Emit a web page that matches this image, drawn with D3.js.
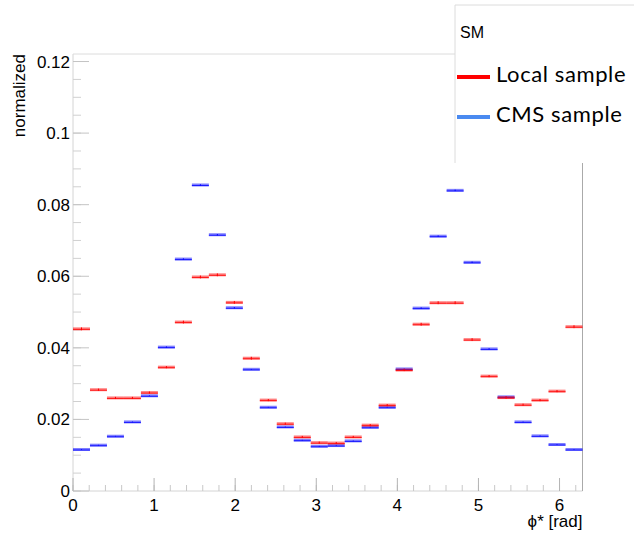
<!DOCTYPE html>
<html>
<head>
<meta charset="utf-8">
<script src="https://d3js.org/d3.v7.min.js"></script>
<style>
  body { margin: 0; background: white; }
</style>
</head>
<body>
<script>

// 30 bins between 0 and 2pi
var nBins = 30;
var phiMax = 2 * Math.PI;

// Local sample (red), one value per bin
var localValues = [0.0453, 0.0283, 0.0260, 0.0260, 0.0275, 0.0346, 0.0472, 0.0598, 0.0604, 0.0527,
                   0.0371, 0.0254, 0.0188, 0.0151, 0.0135, 0.0134, 0.0151, 0.0184, 0.0240, 0.0338,
                   0.0466, 0.0526, 0.0526, 0.0423, 0.0321, 0.0261, 0.0241, 0.0254, 0.0279, 0.0459];
var localErrors = [0.0004, 0.0003, 0.0003, 0.0003, 0.0003, 0.0003, 0.0004, 0.0004, 0.0004, 0.0004,
                   0.0004, 0.0003, 0.0003, 0.0003, 0.0003, 0.0003, 0.0003, 0.0003, 0.0003, 0.0003,
                   0.0004, 0.0004, 0.0004, 0.0004, 0.0003, 0.0003, 0.0003, 0.0003, 0.0003, 0.0004];

// CMS sample (blue)
var cmsValues = [0.0116, 0.0128, 0.0153, 0.0193, 0.0266, 0.0402, 0.0648, 0.0855, 0.0716, 0.0512,
                 0.0340, 0.0234, 0.0179, 0.0142, 0.0125, 0.0127, 0.0140, 0.0178, 0.0234, 0.0341,
                 0.0511, 0.0712, 0.0840, 0.0639, 0.0397, 0.0263, 0.0193, 0.0154, 0.0130, 0.0116];
var cmsErrors = [0.0001, 0.0001, 0.0001, 0.0001, 0.0001, 0.0002, 0.0002, 0.0002, 0.0002, 0.0002,
                 0.0001, 0.0001, 0.0001, 0.0001, 0.0001, 0.0001, 0.0001, 0.0001, 0.0001, 0.0001,
                 0.0002, 0.0002, 0.0002, 0.0002, 0.0002, 0.0001, 0.0001, 0.0001, 0.0001, 0.0001];

var yMajorTicks = [0, 0.02, 0.04, 0.06, 0.08, 0.1, 0.12];
var yTickLabels = ["0", "0.02", "0.04", "0.06", "0.08", "0.1", "0.12"];
var xMajorTicks = [0, 1, 2, 3, 4, 5, 6];

var legendTitle = "SM";
var legendNames = ["Local sample", "CMS sample"];

var width = 634;
var height = 533;

var plotLeft = 73, plotRight = 582.5, plotTop = 54, plotBottom = 491;

var x = d3.scaleLinear().domain([0, phiMax]).range([plotLeft, plotRight]);
var y = d3.scaleLinear().domain([0, 0.1221]).range([plotBottom, plotTop]);

var svg = d3.select("body").append("svg")
    .attr("width", width)
    .attr("height", height);

svg.append("rect")
    .attr("width", "100%")
    .attr("height", "100%")
    .attr("fill", "white");

// frame
svg.append("line").attr("x1", plotLeft).attr("y1", plotTop).attr("x2", plotLeft).attr("y2", plotBottom)
    .attr("stroke", "#d4d4d4").attr("stroke-width", 1);
svg.append("line").attr("x1", plotLeft).attr("y1", plotBottom).attr("x2", plotRight).attr("y2", plotBottom)
    .attr("stroke", "#d4d4d4").attr("stroke-width", 1);
svg.append("line").attr("x1", plotLeft).attr("y1", plotTop).attr("x2", plotRight).attr("y2", plotTop)
    .attr("stroke", "#dcdcdc").attr("stroke-width", 1);
svg.append("line").attr("x1", plotRight).attr("y1", plotTop).attr("x2", plotRight).attr("y2", plotBottom)
    .attr("stroke", "#aaaaaa").attr("stroke-width", 1);

// y ticks: minor every 0.005, major every 0.02
var yMinor = d3.range(0, 0.1221, 0.005);
svg.selectAll(".yminor").data(yMinor).enter().append("line")
    .attr("x1", plotLeft).attr("x2", plotLeft + 8)
    .attr("y1", function(d) { return y(d); })
    .attr("y2", function(d) { return y(d); })
    .attr("stroke", "#d0d0d0");
svg.selectAll(".ymajor").data(yMajorTicks).enter().append("line")
    .attr("x1", plotLeft).attr("x2", plotLeft + 16)
    .attr("y1", function(d) { return y(d); })
    .attr("y2", function(d) { return y(d); })
    .attr("stroke", "#c4c4c4");
svg.selectAll(".ylabel").data(yMajorTicks).enter().append("text")
    .attr("x", plotLeft - 3)
    .attr("y", function(d) { return y(d) + 6; })
    .attr("text-anchor", "end")
    .attr("font-family", "Liberation Sans, Arial, sans-serif")
    .attr("font-size", "17px")
    .attr("fill", "black")
    .text(function(d, i) { return yTickLabels[i]; });

// x ticks: minor every 0.2, major every 1
var xMinor = d3.range(0, phiMax, 0.2);
svg.selectAll(".xminor").data(xMinor).enter().append("line")
    .attr("x1", function(d) { return x(d); })
    .attr("x2", function(d) { return x(d); })
    .attr("y1", plotBottom).attr("y2", plotBottom - 6)
    .attr("stroke", "#c8c8c8");
svg.selectAll(".xmajor").data(xMajorTicks).enter().append("line")
    .attr("x1", function(d) { return x(d); })
    .attr("x2", function(d) { return x(d); })
    .attr("y1", plotBottom).attr("y2", plotBottom - 13)
    .attr("stroke", "#b4b4b4");
svg.selectAll(".xlabel").data(xMajorTicks).enter().append("text")
    .attr("x", function(d) { return x(d); })
    .attr("y", plotBottom + 20)
    .attr("text-anchor", "middle")
    .attr("font-family", "Liberation Sans, Arial, sans-serif")
    .attr("font-size", "17px")
    .attr("fill", "black")
    .text(function(d) { return d; });

// axis titles
svg.append("text")
    .attr("x", plotRight)
    .attr("y", 527)
    .attr("text-anchor", "end")
    .attr("font-family", "Liberation Sans, Arial, sans-serif")
    .attr("font-size", "17px")
    .attr("fill", "black")
    .text("\u03d5* [rad]");

svg.append("text")
    .attr("transform", "translate(25," + plotTop + ") rotate(-90)")
    .attr("text-anchor", "end")
    .attr("font-family", "Liberation Sans, Arial, sans-serif")
    .attr("font-size", "17px")
    .attr("fill", "black")
    .text("normalized");

// histograms
var binW = phiMax / nBins;

function drawHist(values, errors, color, cls) {
    var g = svg.append("g").attr("class", cls);
    // soft band
    g.selectAll(".band").data(values).enter().append("line")
        .attr("x1", function(d, i) { return x(i * binW); })
        .attr("x2", function(d, i) { return x((i + 1) * binW); })
        .attr("y1", function(d) { return y(d); })
        .attr("y2", function(d) { return y(d); })
        .attr("stroke", color)
        .attr("stroke-opacity", 0.5)
        .attr("stroke-width", 3);
    // core line
    g.selectAll(".core").data(values).enter().append("line")
        .attr("x1", function(d, i) { return x(i * binW); })
        .attr("x2", function(d, i) { return x((i + 1) * binW); })
        .attr("y1", function(d) { return y(d) + 0.5; })
        .attr("y2", function(d) { return y(d) + 0.5; })
        .attr("stroke", color)
        .attr("stroke-opacity", 0.8)
        .attr("stroke-width", 1);
    // error bars
    g.selectAll(".err").data(values).enter().append("line")
        .attr("x1", function(d, i) { return x((i + 0.5) * binW); })
        .attr("x2", function(d, i) { return x((i + 0.5) * binW); })
        .attr("y1", function(d, i) { return y(d - errors[i]); })
        .attr("y2", function(d, i) { return y(d + errors[i]); })
        .attr("stroke", color)
        .attr("stroke-width", 1);
}

drawHist(cmsValues, cmsErrors, "#0000ff", "cms");
drawHist(localValues, localErrors, "#ff0000", "local");

// legend box, covers frame corner
var legX = 455, legY = 5, legBottom = 163;
svg.append("rect")
    .attr("x", legX).attr("y", legY)
    .attr("width", width - legX + 5).attr("height", legBottom - legY)
    .attr("fill", "white");
svg.append("line").attr("x1", legX).attr("y1", legY).attr("x2", width).attr("y2", legY)
    .attr("stroke", "#dcdcdc");
svg.append("line").attr("x1", legX).attr("y1", legY).attr("x2", legX).attr("y2", legBottom)
    .attr("stroke", "#dcdcdc");

svg.append("text")
    .attr("x", 460).attr("y", 38)
    .attr("font-family", "Liberation Sans, Arial, sans-serif")
    .attr("font-size", "16px")
    .attr("fill", "black")
    .text(legendTitle);

var legColors = ["#ff0000", "#4a8af0"];
var legRows = [77, 117];
for (var k = 0; k < legendNames.length; k++) {
    svg.append("line")
        .attr("x1", 457).attr("x2", 490)
        .attr("y1", legRows[k]).attr("y2", legRows[k])
        .attr("stroke", legColors[k])
        .attr("stroke-width", 4);
    svg.append("text")
        .attr("x", 496).attr("y", legRows[k] + 5)
        .attr("font-family", "Lato, 'Open Sans', sans-serif")
        .attr("font-size", "22px")
        .attr("letter-spacing", "0.6px")
        .attr("fill", "black")
        .text(legendNames[k]);
}

</script>
</body>
</html>
